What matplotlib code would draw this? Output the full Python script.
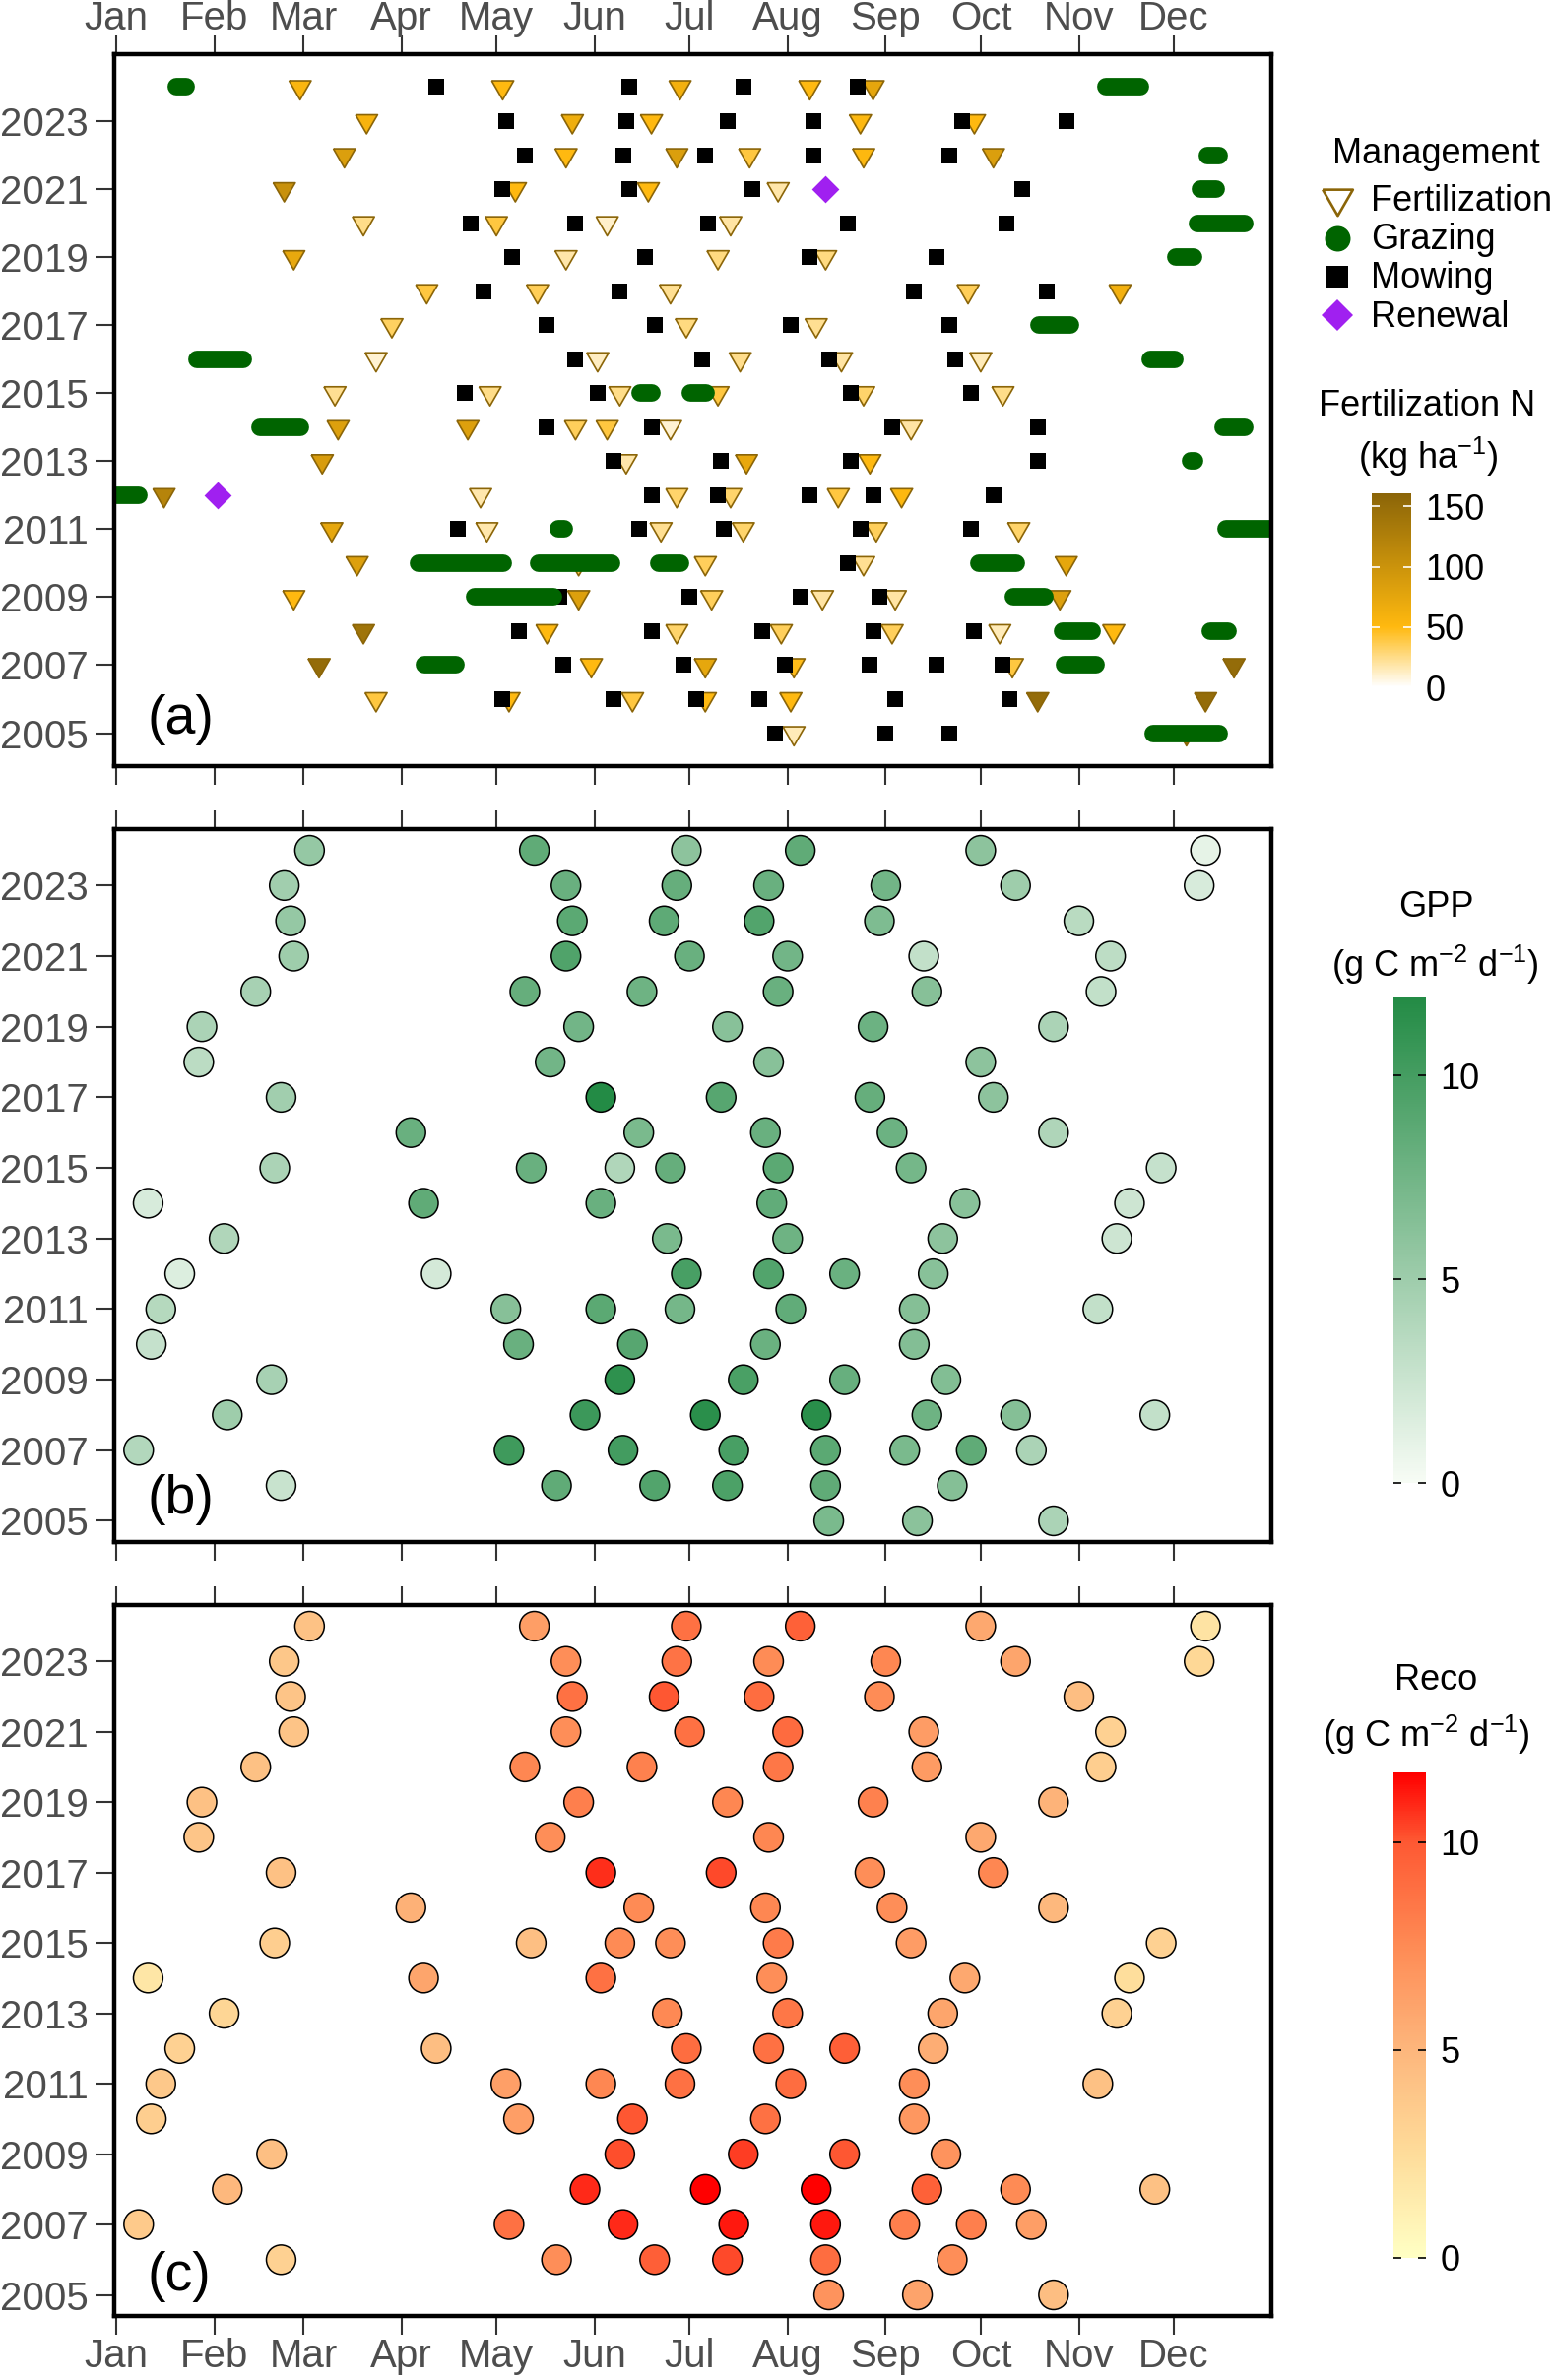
import matplotlib
matplotlib.use("Agg")
import matplotlib.pyplot as plt
from matplotlib.cm import ScalarMappable
from matplotlib.colors import LinearSegmentedColormap, Normalize
from matplotlib.lines import Line2D

plt.rcParams["font.family"] = ["Liberation Sans", "DejaVu Sans"]
plt.rcParams["mathtext.fontset"] = "custom"
plt.rcParams["mathtext.rm"] = "Liberation Sans"
plt.rcParams["mathtext.it"] = "Liberation Sans:italic"
plt.rcParams["mathtext.bf"] = "Liberation Sans:bold"

# ---------------------------------------------------------------- data
MONTHS = ["Jan", "Feb", "Mar", "Apr", "May", "Jun",
          "Jul", "Aug", "Sep", "Oct", "Nov", "Dec"]
MONTH_DOY = [1, 32, 60, 91, 121, 152, 182, 213, 244, 274, 305, 335]
YEAR_TICKS = list(range(2005, 2024, 2))

# fertilization events: year, day of year, N amount (kg ha-1)
FERT_YEAR = ([2024] * 5 + [2023] * 5 + [2022] * 6 + [2021] * 4 + [2020] * 4
             + [2019] * 4 + [2018] * 5 + [2017] * 3 + [2016] * 5 + [2015] * 6
             + [2014] * 6 + [2013] * 4 + [2012] * 6 + [2011] * 6 + [2010] * 5
             + [2009] * 6 + [2008] * 7 + [2007] * 6 + [2006] * 7 + [2005] * 2)
FERT_DOY = [59, 123, 179, 220, 240,
            80, 145, 170, 236, 272,
            73, 143, 178, 201, 237, 278,
            54, 127, 169, 210,
            79, 121, 156, 195,
            57, 143, 191, 225,
            99, 134, 176, 270, 318,
            88, 181, 222,
            83, 153, 198, 230, 274,
            70, 119, 160, 191, 237, 281,
            71, 112, 146, 156, 176, 252,
            66, 162, 200, 239,
            16, 116, 178, 195, 229, 249,
            69, 118, 173, 199, 241, 286,
            77, 147, 187, 237, 301,
            57, 147, 189, 224, 247, 299,
            79, 137, 178, 211, 246, 280, 316,
            65, 151, 187, 215, 284, 354,
            83, 125, 164, 187, 214, 292, 345,
            215, 339]
FERT_N = [55, 50, 62, 50, 75,
          58, 65, 50, 52, 50,
          84, 50, 84, 40, 52, 84,
          102, 50, 50, 18,
          25, 40, 11, 19,
          72, 18, 27, 27,
          40, 35, 23, 35, 62,
          33, 27, 23,
          10, 13, 24, 19, 15,
          23, 25, 25, 40, 31, 25,
          83, 83, 34, 40, 10, 19,
          88, 18, 72, 50,
          120, 17, 31, 31, 40, 52,
          74, 17, 23, 31, 34, 31,
          83, 34, 34, 23, 74,
          50, 83, 34, 19, 19, 83,
          141, 50, 31, 34, 34, 15, 50,
          152, 50, 74, 48, 40, 152,
          40, 50, 40, 50, 50, 152, 152,
          15, 150]

# mowing events: year, day of year
MOW_YEAR = ([2024] * 4 + [2023] * 6 + [2022] * 5 + [2021] * 4 + [2020] * 5
            + [2019] * 4 + [2018] * 4 + [2017] * 4 + [2016] * 4 + [2015] * 4
            + [2014] * 4 + [2013] * 4 + [2012] * 5 + [2011] * 5 + [2010] * 1
            + [2009] * 5 + [2008] * 5 + [2007] * 6 + [2006] * 6 + [2005] * 3)
MOW_DOY = [102, 163, 199, 235,
           124, 162, 194, 221, 268, 301,
           130, 161, 187, 221, 264,
           123, 163, 202, 287,
           113, 146, 188, 232, 282,
           126, 168, 220, 260,
           117, 160, 253, 295,
           137, 171, 214, 264,
           146, 186, 226, 266,
           111, 153, 233, 271,
           137, 170, 246, 292,
           158, 192, 233, 292,
           170, 191, 220, 240, 278,
           109, 166, 193, 236, 271,
           232,
           140, 182, 217, 242, 141,
           128, 170, 205, 240, 272,
           142, 180, 212, 239, 260, 281,
           123, 158, 184, 204, 247, 283,
           209, 244, 264]

# grazing periods: year, first day, last day
GRAZE_YEAR = [2024, 2024, 2022, 2021, 2020, 2019, 2017, 2016, 2016, 2015,
              2015, 2014, 2014, 2013, 2012, 2011, 2011, 2010, 2010, 2010,
              2010, 2009, 2009, 2008, 2008, 2007, 2007, 2005]
GRAZE_START = [20, 313.5, 345.5, 343.4, 342.5, 335.5, 292.5, 26.3, 327.4, 166.5,
               182.3, 46.3, 350.5, 340.4, -3, 140.5, 351.6, 96.4, 134.5, 172.4,
               273.4, 114.2, 284.4, 299.8, 346.5, 98.4, 300.4, 328.4]
GRAZE_END = [23, 324.4, 349.3, 348.3, 357.4, 341.3, 302.4, 41.1, 335.2, 170.1,
             187.3, 59.1, 357.4, 341.5, 8.2, 142.3, 372, 123.3, 157.4, 179.1,
             285.2, 139.1, 294.2, 309.3, 352.2, 108.1, 310.3, 349.3]

# grassland renewal
RENEW_YEAR = [2012, 2021]
RENEW_DOY = [33, 225]

# flux sampling dates with daily GPP and Reco (g C m-2 d-1)
FLUX_YEAR = ([2024] * 6 + [2023] * 7 + [2022] * 6 + [2021] * 6 + [2020] * 6
             + [2019] * 5 + [2018] * 4 + [2017] * 5 + [2016] * 5 + [2015] * 7
             + [2014] * 6 + [2013] * 5 + [2012] * 6 + [2011] * 7 + [2010] * 5
             + [2009] * 5 + [2008] * 7 + [2007] * 8 + [2006] * 6 + [2005] * 3)
FLUX_DOY = [62, 133, 181, 217, 274, 345,
            54, 143, 178, 207, 244, 285, 343,
            56, 145, 174, 204, 242, 305,
            57, 143, 182, 213, 256, 315,
            45, 130, 167, 210, 257, 312,
            28, 147, 194, 240, 297,
            27, 138, 207, 274,
            53, 154, 192, 239, 278,
            94, 166, 206, 246, 297,
            51, 132, 160, 176, 210, 252, 331,
            11, 98, 154, 208, 269, 321,
            35, 175, 213, 262, 317,
            21, 102, 181, 207, 231, 259,
            15, 124, 154, 179, 214, 253, 311,
            12, 128, 164, 206, 253,
            50, 160, 199, 231, 263,
            36, 149, 187, 222, 257, 285, 329,
            8, 125, 161, 196, 225, 250, 271, 290,
            53, 140, 171, 194, 225, 265,
            226, 254, 297]
GPP = [5.5, 8.5, 6.0, 8.5, 6.0, 1.0,
       4.8, 8.0, 8.2, 8.0, 7.5, 5.0, 1.8,
       5.5, 8.8, 8.6, 9.3, 6.8, 3.5,
       5.0, 9.4, 8.0, 7.5, 3.0, 3.3,
       4.5, 8.2, 7.7, 8.0, 6.3, 3.0,
       4.3, 7.5, 6.2, 7.8, 4.3,
       3.4, 7.5, 6.2, 6.0,
       4.8, 11.9, 9.0, 8.2, 6.0,
       8.0, 7.0, 8.0, 7.8, 4.1,
       4.3, 8.0, 4.0, 8.2, 8.8, 7.3, 2.8,
       1.8, 8.5, 8.0, 8.4, 6.2, 2.4,
       4.0, 7.0, 7.7, 6.0, 2.4,
       1.5, 2.0, 9.8, 9.3, 7.9, 6.2,
       3.7, 6.3, 8.8, 7.3, 8.4, 6.4, 3.0,
       2.8, 8.0, 9.0, 7.9, 6.5,
       4.5, 11.3, 9.7, 8.1, 6.6,
       5.0, 10.5, 11.5, 11.6, 7.7, 6.4, 3.0,
       3.9, 10.3, 10.1, 9.8, 8.8, 7.0, 8.5, 4.3,
       2.7, 8.5, 9.3, 9.6, 8.5, 6.4,
       7.0, 6.1, 4.3]
RECO = [4.2, 6.4, 8.8, 9.6, 5.8, 2.0,
        3.9, 7.3, 8.7, 7.4, 7.7, 6.0, 2.8,
        4.1, 8.8, 10.0, 9.0, 7.4, 4.5,
        4.1, 7.3, 8.8, 9.1, 6.5, 3.2,
        4.3, 7.7, 8.0, 8.5, 6.6, 3.4,
        4.3, 8.1, 7.7, 8.0, 5.2,
        4.0, 7.3, 7.7, 5.8,
        4.3, 10.8, 10.3, 7.3, 7.7,
        5.3, 7.5, 7.7, 7.3, 4.9,
        3.4, 4.4, 7.5, 7.3, 8.3, 6.5, 3.2,
        1.8, 6.0, 8.8, 7.3, 5.8, 2.4,
        2.9, 7.6, 8.5, 6.0, 3.2,
        3.2, 4.5, 9.0, 8.8, 9.7, 5.5,
        3.8, 6.3, 7.7, 8.8, 9.0, 7.3, 4.3,
        3.4, 6.4, 10.0, 8.8, 6.8,
        4.4, 10.2, 10.5, 10.0, 7.0,
        4.9, 10.9, 11.7, 11.7, 9.6, 7.5, 4.3,
        3.7, 8.8, 10.9, 11.2, 11.2, 8.1, 8.1, 6.4,
        3.2, 7.3, 9.7, 10.3, 9.0, 7.3,
        7.0, 6.1, 4.5]

# ---------------------------------------------------------------- styles
W, H = 1576, 2417
FERT_MAX, GPP_MAX, RECO_MAX = 161, 11.93, 11.68
FERT_CMAP = LinearSegmentedColormap.from_list(
    "fert", [(0, "#FFFFFF"), (50 / FERT_MAX, "#FFB90F"), (1, "#8B6508")])
GPP_CMAP = LinearSegmentedColormap.from_list("gpp", ["#F7FCF5", "#238B45"])
RECO_CMAP = LinearSegmentedColormap.from_list(
    "reco", [(0, "#FFFFC4"), (2.5 / RECO_MAX, "#FEDC9A"),
             (5 / RECO_MAX, "#FDB67C"), (7.5 / RECO_MAX, "#FE8B55"),
             (10 / RECO_MAX, "#FE5933"), (1, "#FF0000")])
TRI_DOWN = [(-1, 0.57735), (1, 0.57735), (0, -1.1547), (-1, 0.57735)]
FERT_EDGE = "#8B6508"
GRAZE_COLOR = "#006400"
RENEW_COLOR = "#A020F0"


def fx(px):
    return px / W


def fy(py):
    return 1 - py / H


def axes_rect(left, top, right, bottom):
    return [fx(left), fy(bottom), (right - left) / W, (bottom - top) / H]


def style_axes(ax, ylim, labeltop, labelbottom):
    ax.set_xlim(0.2, 365.8)
    ax.set_ylim(*ylim)
    ax.set_xticks(MONTH_DOY)
    ax.set_xticklabels(MONTHS)
    ax.set_yticks(YEAR_TICKS)
    ax.tick_params(axis="both", direction="out", length=13.5, width=1.5,
                   color="#333333", labelsize=29, labelcolor="#4D4D4D")
    ax.tick_params(axis="x", top=True, bottom=True, labeltop=labeltop,
                   labelbottom=labelbottom, pad=-1.2 if labeltop else 2.5)
    ax.tick_params(axis="y", pad=5)
    for sp in ax.spines.values():
        sp.set_linewidth(3.2)
        sp.set_zorder(10)


fig = plt.figure(figsize=(W / 100, H / 100), dpi=100)

# ---- (a) management
ax_a = fig.add_axes(axes_rect(115.7, 55, 1291, 778))
ax_a.scatter(FERT_DOY, FERT_YEAR, c=FERT_N, cmap=FERT_CMAP, vmin=0,
             vmax=FERT_MAX, marker=TRI_DOWN, s=346, edgecolors=FERT_EDGE,
             linewidths=1.2, zorder=2)
ax_a.scatter(MOW_DOY, MOW_YEAR, marker="s", s=128, color="black",
             linewidths=0, zorder=3)
for yr, d0, d1 in zip(GRAZE_YEAR, GRAZE_START, GRAZE_END):
    ax_a.plot([d0, d1], [yr, yr], color=GRAZE_COLOR, lw=12.8,
              solid_capstyle="round", zorder=4)
ax_a.scatter(RENEW_DOY, RENEW_YEAR, marker="D", s=200, color=RENEW_COLOR,
             linewidths=0, zorder=5)
style_axes(ax_a, (2004.03, 2024.97), True, False)
ax_a.text(0.029, 0.046, "(a)", transform=ax_a.transAxes, fontsize=40,
          va="baseline")

# ---- (b) GPP and (c) Reco
ax_b = fig.add_axes(axes_rect(115.7, 842, 1291, 1566))
ax_b.scatter(FLUX_DOY, FLUX_YEAR, c=GPP, cmap=GPP_CMAP, vmin=0, vmax=GPP_MAX,
             s=462, edgecolors="black", linewidths=1.1, zorder=3)
style_axes(ax_b, (2004.4, 2024.6), False, False)
ax_b.text(0.029, 0.040, "(b)", transform=ax_b.transAxes, fontsize=40,
          va="baseline")

ax_c = fig.add_axes(axes_rect(115.7, 1630, 1291, 2352))
ax_c.scatter(FLUX_DOY, FLUX_YEAR, c=RECO, cmap=RECO_CMAP, vmin=0,
             vmax=RECO_MAX, s=462, edgecolors="black", linewidths=1.1,
             zorder=3)
style_axes(ax_c, (2004.4, 2024.6), False, True)
ax_c.text(0.029, 0.036, "(c)", transform=ax_c.transAxes, fontsize=40,
          va="baseline")

# ---- management legend
fig.text(fx(1458.5), fy(166), "Management", fontsize=26, ha="center",
         va="baseline")
legend_items = [
    ("Fertilization", 214, 201, dict(marker=TRI_DOWN, markersize=25.5,
                                     markerfacecolor="white",
                                     markeredgecolor=FERT_EDGE,
                                     markeredgewidth=1.9)),
    ("Grazing", 253, 241.6, dict(marker="o", markersize=18.7,
                                 markerfacecolor=GRAZE_COLOR,
                                 markeredgewidth=0)),
    ("Mowing", 292, 280.6, dict(marker="s", markersize=16.5,
                                markerfacecolor="black", markeredgewidth=0)),
    ("Renewal", 332, 320, dict(marker="D", markersize=16.0,
                               markerfacecolor=RENEW_COLOR,
                               markeredgewidth=0)),
]
for label, base, ymark, kw in legend_items:
    fig.add_artist(Line2D([fx(1358)], [fy(ymark)], linestyle="none",
                          transform=fig.transFigure, **kw))
    fig.text(fx(1392), fy(base), label, fontsize=26, ha="left",
             va="baseline")


# ---- colour bars
def add_colorbar(left, top, right, bottom, cmap, vmax, ticks, tick_color):
    cax = fig.add_axes(axes_rect(left, top, right, bottom))
    cb = fig.colorbar(ScalarMappable(norm=Normalize(0, vmax), cmap=cmap),
                      cax=cax, ticks=ticks)
    cb.outline.set_visible(False)
    cax.yaxis.set_ticks_position("both")
    cax.tick_params(axis="y", direction="in", length=6, width=1.2,
                    color=tick_color, labelsize=26, labelcolor="black",
                    pad=10.5, labelleft=False, labelright=True)
    return cb


fig.text(fx(1449.5), fy(422), "Fertilization N", fontsize=26, ha="center",
         va="baseline")
fig.text(fx(1450), fy(476), r"(kg ha$^{-1}$)", fontsize=26, ha="center",
         va="baseline")
add_colorbar(1393, 501, 1433, 698, FERT_CMAP, FERT_MAX, [0, 50, 100, 150],
             "white")

fig.text(fx(1458), fy(931), "GPP", fontsize=26, ha="center", va="baseline")
fig.text(fx(1457), fy(992), r"(g C m$^{-2}$ d$^{-1}$)", fontsize=26,
         ha="center", va="baseline")
add_colorbar(1415, 1012.6, 1448, 1506, GPP_CMAP, GPP_MAX, [0, 5, 10],
             "black")

fig.text(fx(1458), fy(1716), "Reco", fontsize=26, ha="center", va="baseline")
fig.text(fx(1448), fy(1774), r"(g C m$^{-2}$ d$^{-1}$)", fontsize=26,
         ha="center", va="baseline")
add_colorbar(1415, 1800, 1448, 2293, RECO_CMAP, RECO_MAX, [0, 5, 10],
             "black")

fig.savefig("out.png", dpi=100)
plt.close(fig)
